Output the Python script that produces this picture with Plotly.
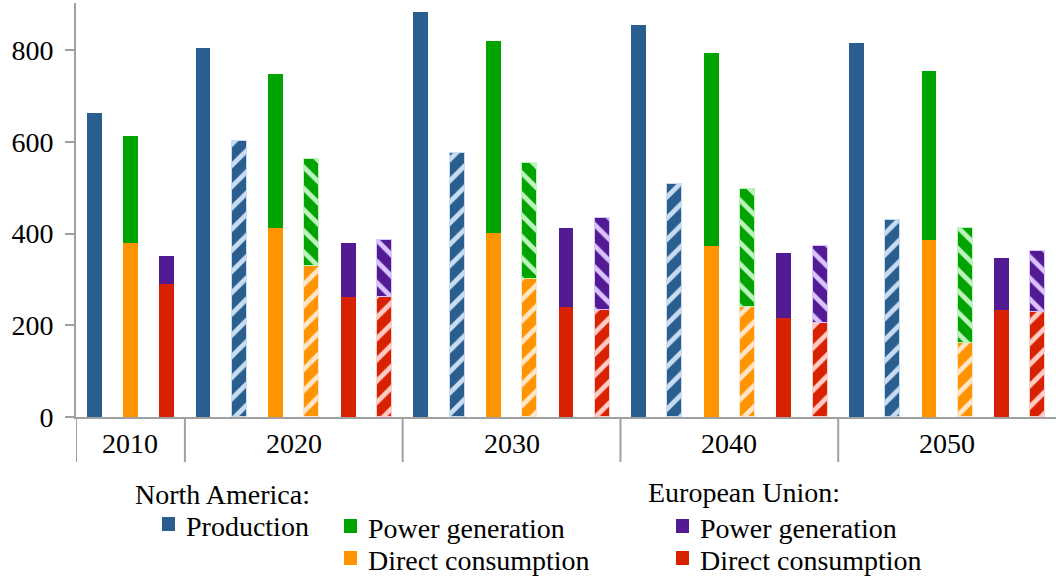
import plotly.graph_objects as go

# ---------------- data ----------------
years = ["2010", "2020", "2030", "2040", "2050"]

na_production = [664, 804, 883, 855, 816]
na_production_alt = [None, 603, 575, 508, 429]
na_direct = [379, 413, 401, 374, 385]
na_power = [235, 336, 420, 420, 369]
na_direct_alt = [None, 329, 300, 239, 161]
na_power_alt = [None, 234, 253, 258, 251]
eu_direct = [290, 262, 239, 216, 233]
eu_power = [61, 117, 173, 141, 113]
eu_direct_alt = [None, 262, 233, 205, 228]
eu_power_alt = [None, 124, 202, 169, 135]

y_ticks = [0, 200, 400, 600, 800]

# ---------------- styles ----------------
C_BLUE, L_BLUE = "#295E8F", "#C9DDF2"
C_GREEN, L_GREEN = "#00A300", "#BDF5BD"
C_ORANGE, L_ORANGE = "#FF9400", "#FFE6C8"
C_RED, L_RED = "#D82100", "#FFCDC6"
C_PURPLE, L_PURPLE = "#521A93", "#DCC4FF"
AXIS = "#A0A0A0"
FONT = "Liberation Serif"
FS = 28

# ---------------- slot layout ----------------
slot = {k: [] for k in ["prod", "prod_alt", "na", "na_alt", "eu", "eu_alt"]}
groups = []
pos = 0
for i in range(len(years)):
    start = pos
    alt = na_production_alt[i] is not None
    order = ["prod", "prod_alt", "na", "na_alt", "eu", "eu_alt"] if alt else ["prod", "na", "eu"]
    for k in slot:
        if k in order:
            slot[k].append(pos + order.index(k))
        else:
            slot[k].append(None)
    pos += len(order)
    groups.append((start, pos - 1))
n_slots = pos


def pick(xs, vals):
    px, pv = [], []
    for a, b in zip(xs, vals):
        if a is not None and b is not None:
            px.append(a)
            pv.append(b)
    return px, pv


BW = 0.41
fig = go.Figure()


def add(xs, vals, color, light=None, shape=None):
    x, y = pick(xs, vals)
    marker = dict(color=color, line=dict(width=0))
    if shape:
        marker = dict(
            color=color,
            line=dict(width=1, color=light),
            pattern=dict(shape=shape, bgcolor=color, fgcolor=light, fgopacity=1,
                         size=15, solidity=0.32, fillmode="overlay"),
        )
    fig.add_trace(go.Bar(x=x, y=y, width=BW, marker=marker, showlegend=False,
                         hoverinfo="y"))


add(slot["prod"], na_production, C_BLUE)
add(slot["prod_alt"], na_production_alt, C_BLUE, L_BLUE, "/")
add(slot["na"], na_direct, C_ORANGE)
add(slot["na"], na_power, C_GREEN)
add(slot["na_alt"], na_direct_alt, C_ORANGE, L_ORANGE, "/")
add(slot["na_alt"], na_power_alt, C_GREEN, L_GREEN, "\\")
add(slot["eu"], eu_direct, C_RED)
add(slot["eu"], eu_power, C_PURPLE)
add(slot["eu_alt"], eu_direct_alt, C_RED, L_RED, "/")
add(slot["eu_alt"], eu_power_alt, C_PURPLE, L_PURPLE, "\\")

W, H = 1056, 577
L, R, T, B = 76, 0, 3, 160
PW, PH = W - L - R, H - T - B


def xp(px):
    return (px - L) / PW


def yp(py):
    return (H - B - py) / PH


shapes = []
annotations = []
cat_drop = yp(462)
# y-axis extension & group dividers
shapes.append(dict(type="line", xref="x", yref="paper", x0=-0.5, x1=-0.5, y0=0, y1=cat_drop,
                   line=dict(color=AXIS, width=2)))
for (s, e) in groups[:-1]:
    shapes.append(dict(type="line", xref="x", yref="paper", x0=e + 0.5, x1=e + 0.5,
                       y0=0, y1=cat_drop, line=dict(color=AXIS, width=2)))
for yr, (s, e) in zip(years, groups):
    annotations.append(dict(text=yr, x=(s + e) / 2, xref="x", y=yp(443), yref="paper",
                            xanchor="center", yanchor="middle", showarrow=False,
                            font=dict(family=FONT, size=FS, color="black")))

# legend
annotations.append(dict(text="North America:", x=xp(133), y=yp(494), xref="paper", yref="paper",
                        xanchor="left", yanchor="middle", showarrow=False,
                        font=dict(family=FONT, size=FS, color="black")))
annotations.append(dict(text="European Union:", x=xp(646), y=yp(493), xref="paper", yref="paper",
                        xanchor="left", yanchor="middle", showarrow=False,
                        font=dict(family=FONT, size=FS, color="black")))
legend_items = [
    ("Production", C_BLUE, 162, 524),
    ("Power generation", C_GREEN, 344, 526),
    ("Direct consumption", C_ORANGE, 344, 558),
    ("Power generation", C_PURPLE, 676, 526),
    ("Direct consumption", C_RED, 676, 558),
]
for text, col, sx, sy in legend_items:
    shapes.append(dict(type="rect", xref="paper", yref="paper",
                       x0=xp(sx), x1=xp(sx + 13), y0=yp(sy - 7), y1=yp(sy + 7),
                       fillcolor=col, line=dict(width=0)))
    annotations.append(dict(text=text, x=xp(sx + 22), y=yp(sy + 2), xref="paper", yref="paper",
                            xanchor="left", yanchor="middle", showarrow=False,
                            font=dict(family=FONT, size=FS, color="black")))

fig.update_layout(
    width=W, height=H,
    margin=dict(l=L, r=R, t=T, b=B, pad=0),
    barmode="stack",
    bargap=0,
    plot_bgcolor="white",
    paper_bgcolor="white",
    font=dict(family=FONT, size=FS, color="black"),
    showlegend=False,
    shapes=shapes,
    annotations=annotations,
    xaxis=dict(range=[-0.5, n_slots - 0.5], showticklabels=False, showgrid=False,
               zeroline=False, showline=True, linecolor=AXIS, linewidth=2, ticks="",
               fixedrange=True),
    yaxis=dict(range=[0, 903], tickvals=y_ticks, showgrid=False, zeroline=False,
               showline=True, linecolor=AXIS, linewidth=2, ticks="outside", ticklen=9,
               tickwidth=2, tickcolor=AXIS, ticklabelstandoff=6,
               tickfont=dict(family=FONT, size=FS, color="black"), fixedrange=True),
)

fig.write_html(
    "out.html",
    config={"displayModeBar": False},
    post_script="document.body.style.margin='0';document.body.style.overflow='hidden';",
)
